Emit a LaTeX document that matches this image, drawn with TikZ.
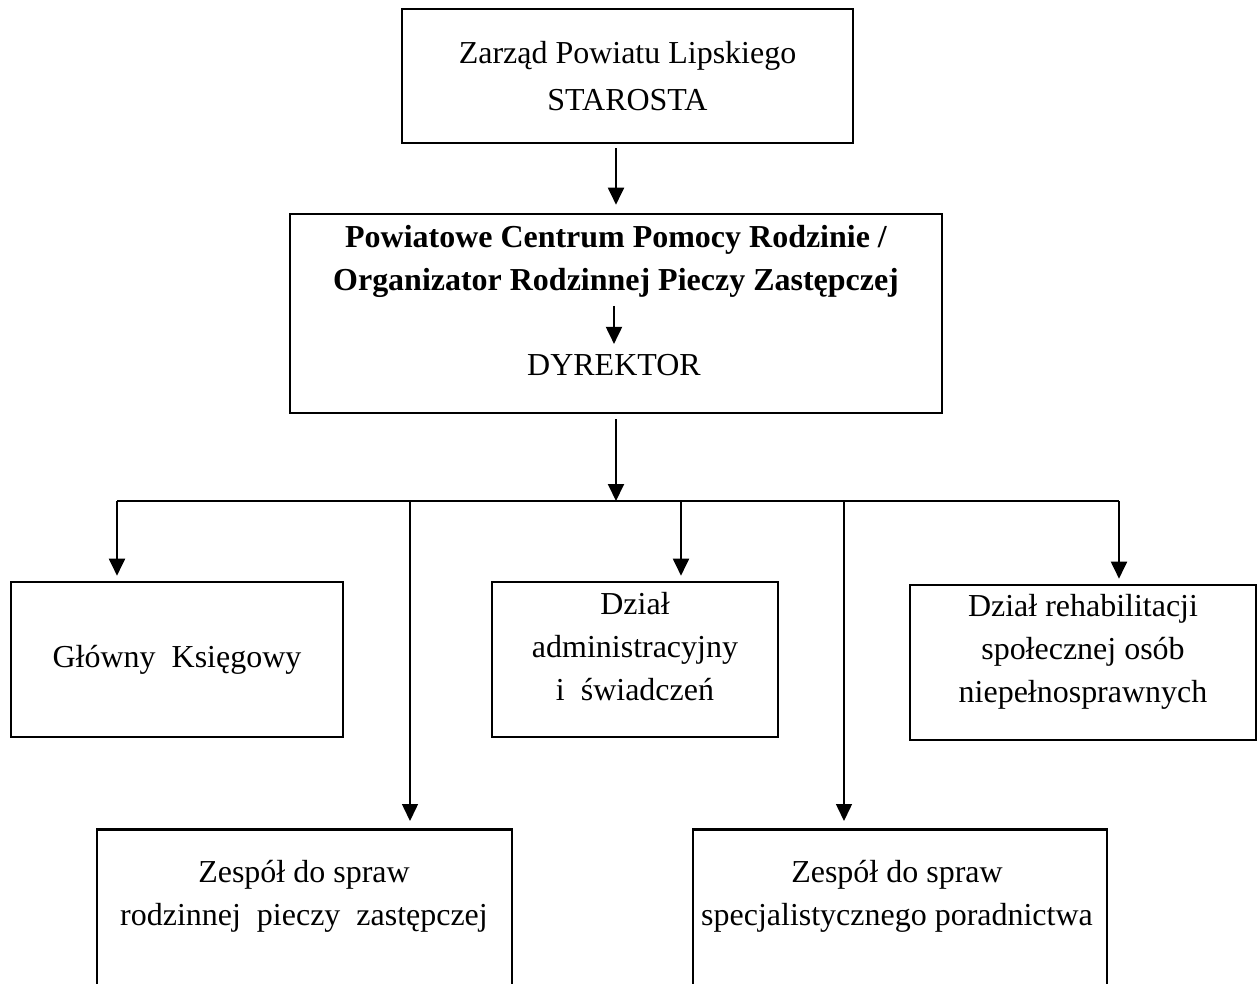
\documentclass[tikz,border=0pt]{standalone}
\usepackage{fontspec}
\setmainfont{Liberation Serif}
\usetikzlibrary{arrows.meta}

\tikzset{
    unit/.style={draw, line width=1.5pt, inner sep=0pt},
    caption/.style={align=center, inner sep=0pt, font=\fontsize{18.2}{24.5}\selectfont},
    link/.style={line width=1.1pt, -{Triangle[length=0.34cm, width=0.32cm]}},
    bus/.style={line width=0.75pt},
}

\begin{document}
\begin{tikzpicture}[x=0.02cm, y=-0.02cm]
    \clip (0,0) rectangle (1259,984);

    % TOP: Zarzad / Starosta
    \node[unit, caption, font=\fontsize{18.2}{26.8}\selectfont,
          minimum width=9.02cm, minimum height=2.68cm] (zarzad) at (627.5,76)
          {Zarząd Powiatu Lipskiego\\STAROSTA};

    % MIDDLE: PCPR with director
    \node[unit, minimum width=13.04cm, minimum height=3.98cm] (pcpr) at (616,313.5) {};
    \node[caption, font=\fontsize{18.2}{24.5}\selectfont\bfseries] (pcpr-txt) at (616,261.5)
          {Powiatowe Centrum Pomocy Rodzinie /\\Organizator Rodzinnej Pieczy Zastępczej};
    \node[caption] (dyr) at (614,365) {DYREKTOR};

    \draw[link, shorten <=0.08cm, shorten >=0.16cm] (pcpr.north |- zarzad.south) -- (pcpr.north);
    \draw[link, shorten <=0.16cm, shorten >=0.2cm] (dyr.north |- pcpr-txt.south) -- (dyr.north);

    % Bus line
    \coordinate (hub) at (616,501);
    \coordinate (d1) at (117,501);
    \coordinate (d2) at (410,501);
    \coordinate (d3) at (681,501);
    \coordinate (d4) at (844,501);
    \coordinate (d5) at (1119,501);

    \draw[link, shorten <=0.1cm] (pcpr.south) -- (hub);
    \draw[bus] (d1) -- (d5);

    % Upper row of units
    \node[unit, caption, minimum width=6.64cm, minimum height=3.10cm] (glowny) at (177,659.5)
          {Główny\ \ Księgowy};
    \node[unit, minimum width=5.72cm, minimum height=3.10cm] (adm) at (635,659.5) {};
    \node[caption] (adm-txt) at (635,646.5) {Dział\\administracyjny\\i\ \ świadczeń};
    \node[unit, minimum width=6.92cm, minimum height=3.10cm] (rehab) at (1083,662.5) {};
    \node[caption] (rehab-txt) at (1083,651.5)
          {Dział rehabilitacji\\społecznej osób\\niepełnosprawnych};

    % Lower row of units (cut off at the bottom)
    \node[unit, anchor=north, minimum width=8.30cm, minimum height=4cm] (rodz) at (304.5,828) {};
    \node[caption] (rodz-txt) at (304,896) {Zespół do spraw\\rodzinnej\ \ pieczy\ \ zastępczej};
    \node[unit, anchor=north, minimum width=8.28cm, minimum height=4cm] (porad) at (900,828) {};
    \node[caption] (porad-txt) at (897,896) {Zespół do spraw\\specjalistycznego poradnictwa};

    % Drops from the bus
    \foreach \c/\b in {d1/glowny, d3/adm, d5/rehab}
        \draw[link, shorten >=0.1cm] (\c) -- (\c |- \b.north);
    \foreach \c/\b in {d2/rodz, d4/porad}
        \draw[link, line width=0.85pt, shorten >=0.14cm] (\c) -- (\c |- \b.north);
\end{tikzpicture}
\end{document}
